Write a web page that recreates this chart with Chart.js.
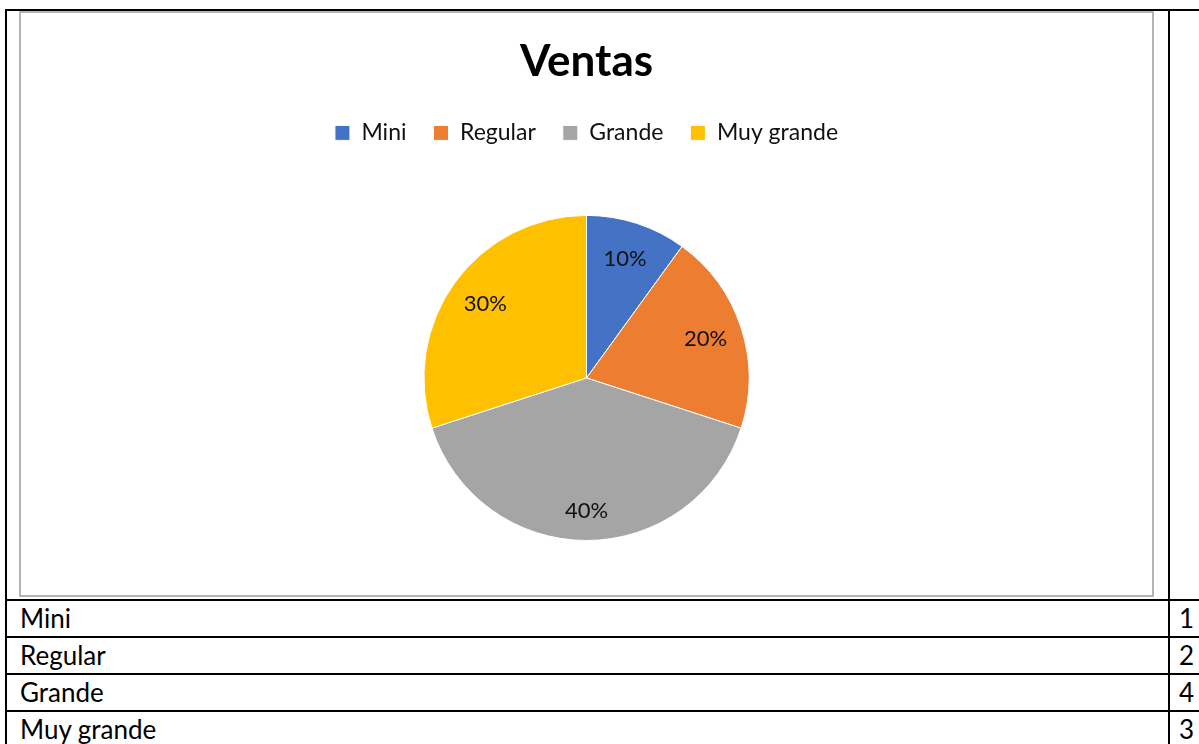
<!DOCTYPE html>
<html>
<head>
<meta charset="utf-8">
<script src="https://cdn.jsdelivr.net/npm/chart.js@4/dist/chart.umd.min.js"></script>
<style>
  html, body { margin: 0; padding: 0; background: #fff; width: 1199px; height: 744px; overflow: hidden; }
  .line { position: absolute; background: #000; }
  #chartBox { position: absolute; left: 19px; top: 11px; width: 1131px; height: 582px; border: 2px solid #b4b4b4; }
  #chartBox canvas { display: block; }
  .cell { position: absolute; font-family: Lato, "Noto Sans", sans-serif; font-size: 26px; color: #000; height: 35px; line-height: 35px; white-space: nowrap; }
</style>
</head>
<body>
<div id="chartBox"><canvas id="c" width="1131" height="582"></canvas></div>
<div id="table"></div>
<script>
const categories = ['Mini', 'Regular', 'Grande', 'Muy grande'];
const sales = [1, 2, 4, 3];
const sliceColors = ['#4472C4', '#ED7D31', '#A5A5A5', '#FFC000'];
const chartTitle = 'Ventas';

// table frame
const table = document.getElementById('table');
function line(l, t, w, h) {
  const d = document.createElement('div');
  d.className = 'line';
  d.style.left = l + 'px'; d.style.top = t + 'px'; d.style.width = w + 'px'; d.style.height = h + 'px';
  table.appendChild(d);
}
line(5, 9, 1194, 2);
line(5, 9, 2, 735);
line(1168, 9, 2, 735);
const rowTops = [599, 636, 673, 710];
rowTops.forEach(t => line(5, t, 1194, 2));
categories.forEach((cat, i) => {
  const a = document.createElement('div');
  a.className = 'cell';
  a.style.left = '20px'; a.style.top = (rowTops[i] + 2) + 'px';
  a.textContent = cat;
  table.appendChild(a);
  const b = document.createElement('div');
  b.className = 'cell';
  b.style.left = '1179px'; b.style.top = (rowTops[i] + 2) + 'px';
  b.textContent = sales[i];
  table.appendChild(b);
});

// extra space below the legend, before the pie
const legendSpacer = {
  id: 'legendSpacer',
  beforeLayout(chart) {
    const lg = chart.legend;
    if (lg && !lg._spacerWrapped) {
      const orig = lg.fit;
      lg.fit = function () { orig.call(this); this.height += 60.5; };
      lg._spacerWrapped = true;
    }
  }
};

const labelRadius = [0.77, 0.77, 0.82, 0.77];
const pctLabels = {
  id: 'pctLabels',
  afterDatasetsDraw(chart) {
    const ctx = chart.ctx;
    const meta = chart.getDatasetMeta(0);
    const data = chart.data.datasets[0].data;
    const total = data.reduce((a, b) => a + b, 0);
    ctx.save();
    ctx.font = '22px Lato, "Noto Sans", sans-serif';
    ctx.fillStyle = '#111';
    ctx.textAlign = 'center';
    ctx.textBaseline = 'middle';
    meta.data.forEach((arc, i) => {
      const p = arc.getProps(['x', 'y', 'startAngle', 'endAngle', 'outerRadius'], true);
      const mid = (p.startAngle + p.endAngle) / 2;
      const r = p.outerRadius * labelRadius[i];
      const txt = Math.round(data[i] / total * 100) + '%';
      ctx.fillText(txt, p.x + Math.cos(mid) * r, p.y + Math.sin(mid) * r);
    });
    ctx.restore();
  }
};

new Chart(document.getElementById('c'), {
  type: 'pie',
  data: {
    labels: categories,
    datasets: [{
      data: sales,
      backgroundColor: sliceColors,
      borderColor: '#ffffff',
      borderWidth: 1
    }]
  },
  options: {
    responsive: false,
    animation: false,
    layout: { padding: { top: 0, bottom: 54, left: 0, right: 0 } },
    plugins: {
      title: {
        display: true,
        text: chartTitle,
        color: '#000',
        font: { family: 'Lato, "Noto Sans", sans-serif', size: 44, weight: 'bold' },
        padding: { top: 22.6, bottom: 6 }
      },
      legend: {
        display: true,
        position: 'top',
        labels: {
          color: '#111',
          font: { family: 'Lato, "Noto Sans", sans-serif', size: 23 },
          boxWidth: 15,
          boxHeight: 15,
          padding: 27
        }
      },
      tooltip: { enabled: false }
    }
  },
  plugins: [legendSpacer, pctLabels]
});
</script>
</body>
</html>
